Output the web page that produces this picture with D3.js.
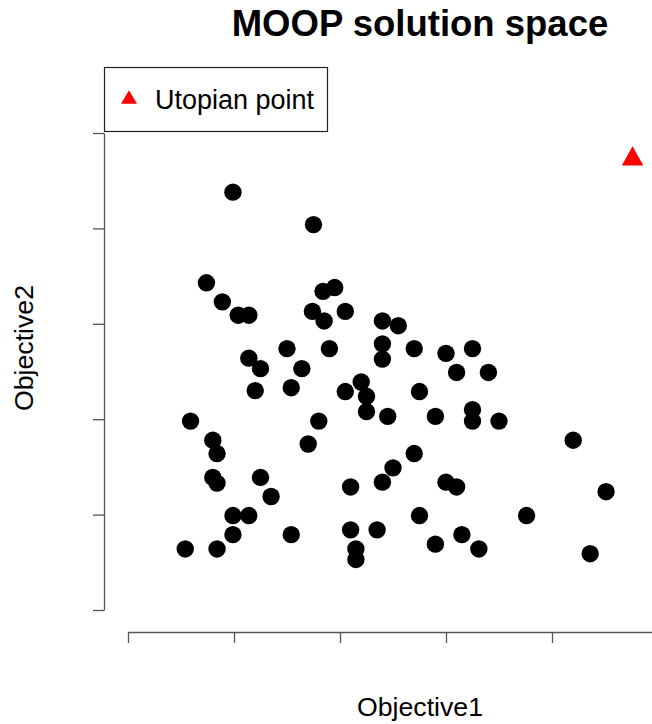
<!DOCTYPE html>
<html>
<head>
<meta charset="utf-8">
<script src="https://cdn.jsdelivr.net/npm/d3@7"></script>
<style>
  html, body { margin: 0; padding: 0; background: #fff; }
  svg { display: block; }
  text { font-family: "Liberation Sans", Arial, Helvetica, sans-serif; fill: #000; }
</style>
</head>
<body>
<svg id="chart" width="652" height="724"></svg>
<script>
// Candidate solutions in objective space
const obj1 = [
  0.99, 1.75, 0.74, 0.89, 1.04, 1.14, 1.84, 1.95, 1.74, 1.85,
  2.05, 1.14, 1.25, 1.50, 1.64, 1.90, 1.20, 1.54, 2.05, 2.20,
  2.40, 2.55, 2.40, 2.40, 2.70, 3.00, 3.25, 3.10, 3.40, 2.25,
  2.75, 2.25, 0.59, 1.80, 0.80, 0.84, 1.70, 0.80, 0.84, 1.25,
  1.35, 2.10, 0.99, 1.14, 0.99, 1.54, 2.10, 0.54, 0.84, 2.15,
  2.15, 2.45, 2.90, 3.25, 3.25, 3.50, 4.20, 2.70, 2.50, 2.40,
  3.00, 3.10, 4.51, 2.75, 3.76, 2.35, 2.90, 3.15, 3.31, 4.36
];
const obj2 = [
  4.38, 4.04, 3.43, 3.23, 3.09, 3.09, 3.34, 3.38, 3.13, 3.03,
  3.13, 2.64, 2.53, 2.74, 2.53, 2.74, 2.30, 2.33, 2.29, 2.39,
  3.03, 2.98, 2.79, 2.63, 2.74, 2.69, 2.74, 2.49, 2.49, 2.24,
  2.29, 2.08, 1.98, 1.98, 1.78, 1.64, 1.74, 1.39, 1.33, 1.39,
  1.19, 1.29, 0.99, 0.99, 0.79, 0.79, 0.84, 0.64, 0.64, 0.64,
  0.53, 2.03, 2.03, 2.10, 1.98, 1.98, 1.78, 1.64, 1.49, 1.34,
  1.34, 1.29, 1.24, 0.99, 0.99, 0.84, 0.69, 0.79, 0.64, 0.59
];
// Ideal point (best value of each objective)
const utopia = [4.76, 4.76];
const xTicks = [0, 1, 2, 3, 4, 5];
const yTicks = [0, 1, 2, 3, 4, 5];
const legendLabel = "Utopian point";

const svg = d3.select("#chart");

const x = d3.scaleLinear().domain([0, 5]).range([128, 658]);
const y = d3.scaleLinear().domain([0, 5]).range([610, 133]);

// Axes without tick labels
const xAxis = d3.axisBottom(x).tickValues(xTicks).tickFormat("").tickSize(11).tickSizeOuter(0);
const yAxis = d3.axisLeft(y).tickValues(yTicks).tickFormat("").tickSize(11).tickSizeOuter(0);

const gx = svg.append("g").attr("transform", "translate(0,632)").call(xAxis);
const gy = svg.append("g").attr("transform", "translate(104,0)").call(yAxis);
[gx, gy].forEach(g => {
  g.selectAll("path, line").attr("stroke", "#555").attr("stroke-width", 1.3);
  g.selectAll("text").remove();
});

// Solutions
svg.append("g")
  .selectAll("circle")
  .data(obj1.map((v, i) => [v, obj2[i]]))
  .join("circle")
  .attr("cx", d => x(d[0]))
  .attr("cy", d => y(d[1]))
  .attr("r", 8.7)
  .attr("fill", "#000");

// Triangle marker centred on (cx, cy)
function tri(cx, cy, w, h) {
  return `M${cx},${cy - h / 2}L${cx + w / 2},${cy + h / 2}L${cx - w / 2},${cy + h / 2}Z`;
}

svg.append("path")
  .attr("d", tri(x(utopia[0]), y(utopia[1]), 21.5, 19.3))
  .attr("fill", "#ff0000");

// Legend
const lg = svg.append("g");
lg.append("rect")
  .attr("x", 104.5).attr("y", 67.5)
  .attr("width", 223).attr("height", 64)
  .attr("fill", "#fff").attr("stroke", "#222").attr("stroke-width", 1.2);
lg.append("path")
  .attr("d", tri(129, 97, 16, 13.5))
  .attr("fill", "#ff0000");
lg.append("text")
  .attr("x", 155).attr("y", 109)
  .attr("font-size", 27)
  .text(legendLabel);

// Titles
svg.append("text")
  .attr("x", 420).attr("y", 36)
  .attr("text-anchor", "middle")
  .attr("font-size", 36.5)
  .attr("font-weight", "bold")
  .text("MOOP solution space");

svg.append("text")
  .attr("x", 420).attr("y", 716)
  .attr("text-anchor", "middle")
  .attr("font-size", 26.7)
  .text("Objective1");

svg.append("text")
  .attr("transform", "translate(33,348) rotate(-90)")
  .attr("text-anchor", "middle")
  .attr("font-size", 26.7)
  .text("Objective2");
</script>
</body>
</html>
